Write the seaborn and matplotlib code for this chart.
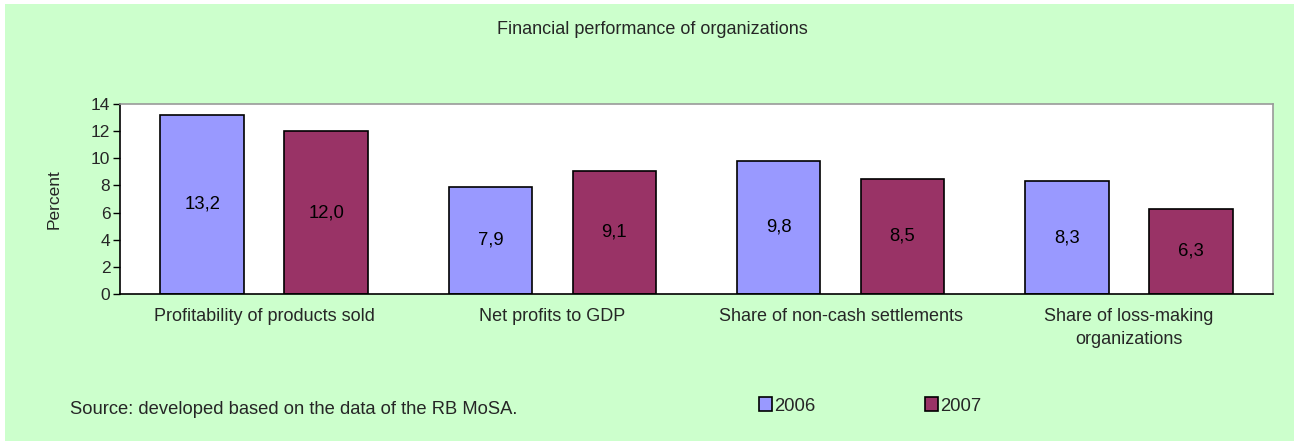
import matplotlib
matplotlib.use("Agg")
import matplotlib.pyplot as plt
import seaborn as sns
import pandas as pd
import numpy as np

categories = ["Profitability of products sold", "Net profits to GDP",
              "Share of non-cash settlements", "Share of loss-making\norganizations"]
years = ["2006", "2007"]
values_2006 = [13.2, 7.9, 9.8, 8.3]
values_2007 = [12.0, 9.1, 8.5, 6.3]
yticks = [0, 2, 4, 6, 8, 10, 12, 14]

df = pd.DataFrame({
    "category": categories * 2,
    "year": [years[0]] * 4 + [years[1]] * 4,
    "value": values_2006 + values_2007,
})

sns.set_theme(style="white")
plt.rcParams['font.family'] = ['Liberation Sans', 'DejaVu Sans']

fig = plt.figure(figsize=(12.94, 4.41), dpi=100, facecolor="white")
bg = plt.Rectangle((5 / 1294, 0), 1, 1 - 4 / 441, transform=fig.transFigure,
                   facecolor="#CCFFCC", edgecolor="none", zorder=-10)
fig.patches.append(bg)

ax = fig.add_axes([120 / 1294, 1 - 294 / 441, (1273 - 120) / 1294, (294 - 104) / 441])
ax.set_facecolor("white")

palette = {"2006": "#9999FF", "2007": "#993366"}
sns.barplot(data=df, x="category", y="value", hue="year", order=categories,
            hue_order=years, palette=palette, width=0.86, gap=0.326,
            edgecolor="black", linewidth=1.2, saturation=1, ax=ax, legend=True)

for cont in ax.containers:
    for bar in cont:
        h = bar.get_height()
        ax.text(bar.get_x() + bar.get_width() / 2, h / 2,
                f"{h:.1f}".replace(".", ","), ha="center", va="center",
                fontsize=13.3, color="black")

ax.set_xlim(-0.5, 3.5)
ax.set_ylim(0, 14)
ax.set_yticks(yticks)
ax.set_yticklabels([str(t) for t in yticks], fontsize=12.5)
ax.set_xticks(range(4))
ax.set_xticklabels(categories, fontsize=13, linespacing=1.5)
ax.set_xticks(np.arange(-0.5, 4, 1), minor=True)
ax.tick_params(axis="x", which="major", length=0, pad=10)
ax.tick_params(axis="x", which="minor", length=5, width=1, color="black", direction="out")
ax.tick_params(axis="y", length=5, width=1, color="black", direction="out", left=True, pad=2)
ax.set_xlabel("")
ax.set_ylabel("Percent", fontsize=12.5, labelpad=21)

for s in ["top", "right"]:
    ax.spines[s].set_color("#999999")
    ax.spines[s].set_linewidth(1.2)
for s in ["left", "bottom"]:
    ax.spines[s].set_color("black")
    ax.spines[s].set_linewidth(1.2)

handles, labels = ax.get_legend_handles_labels()
ax.get_legend().remove()
fig.legend(handles, labels, loc="center left", bbox_to_anchor=(759 / 1294, 1 - 406 / 441),
           ncol=2, frameon=False, fontsize=13.3, handlelength=0.72, handleheight=0.72,
           handletextpad=0.12, columnspacing=5.9, borderpad=0, borderaxespad=0)

fig.text(652 / 1294, 1 - 30 / 441, "Financial performance of organizations",
         ha="center", va="center", fontsize=13)
fig.text(70 / 1294, 1 - 409 / 441, "Source: developed based on the data of the RB MoSA.",
         ha="left", va="center", fontsize=13.2)

fig.savefig("out.png", dpi=100, facecolor="white")
